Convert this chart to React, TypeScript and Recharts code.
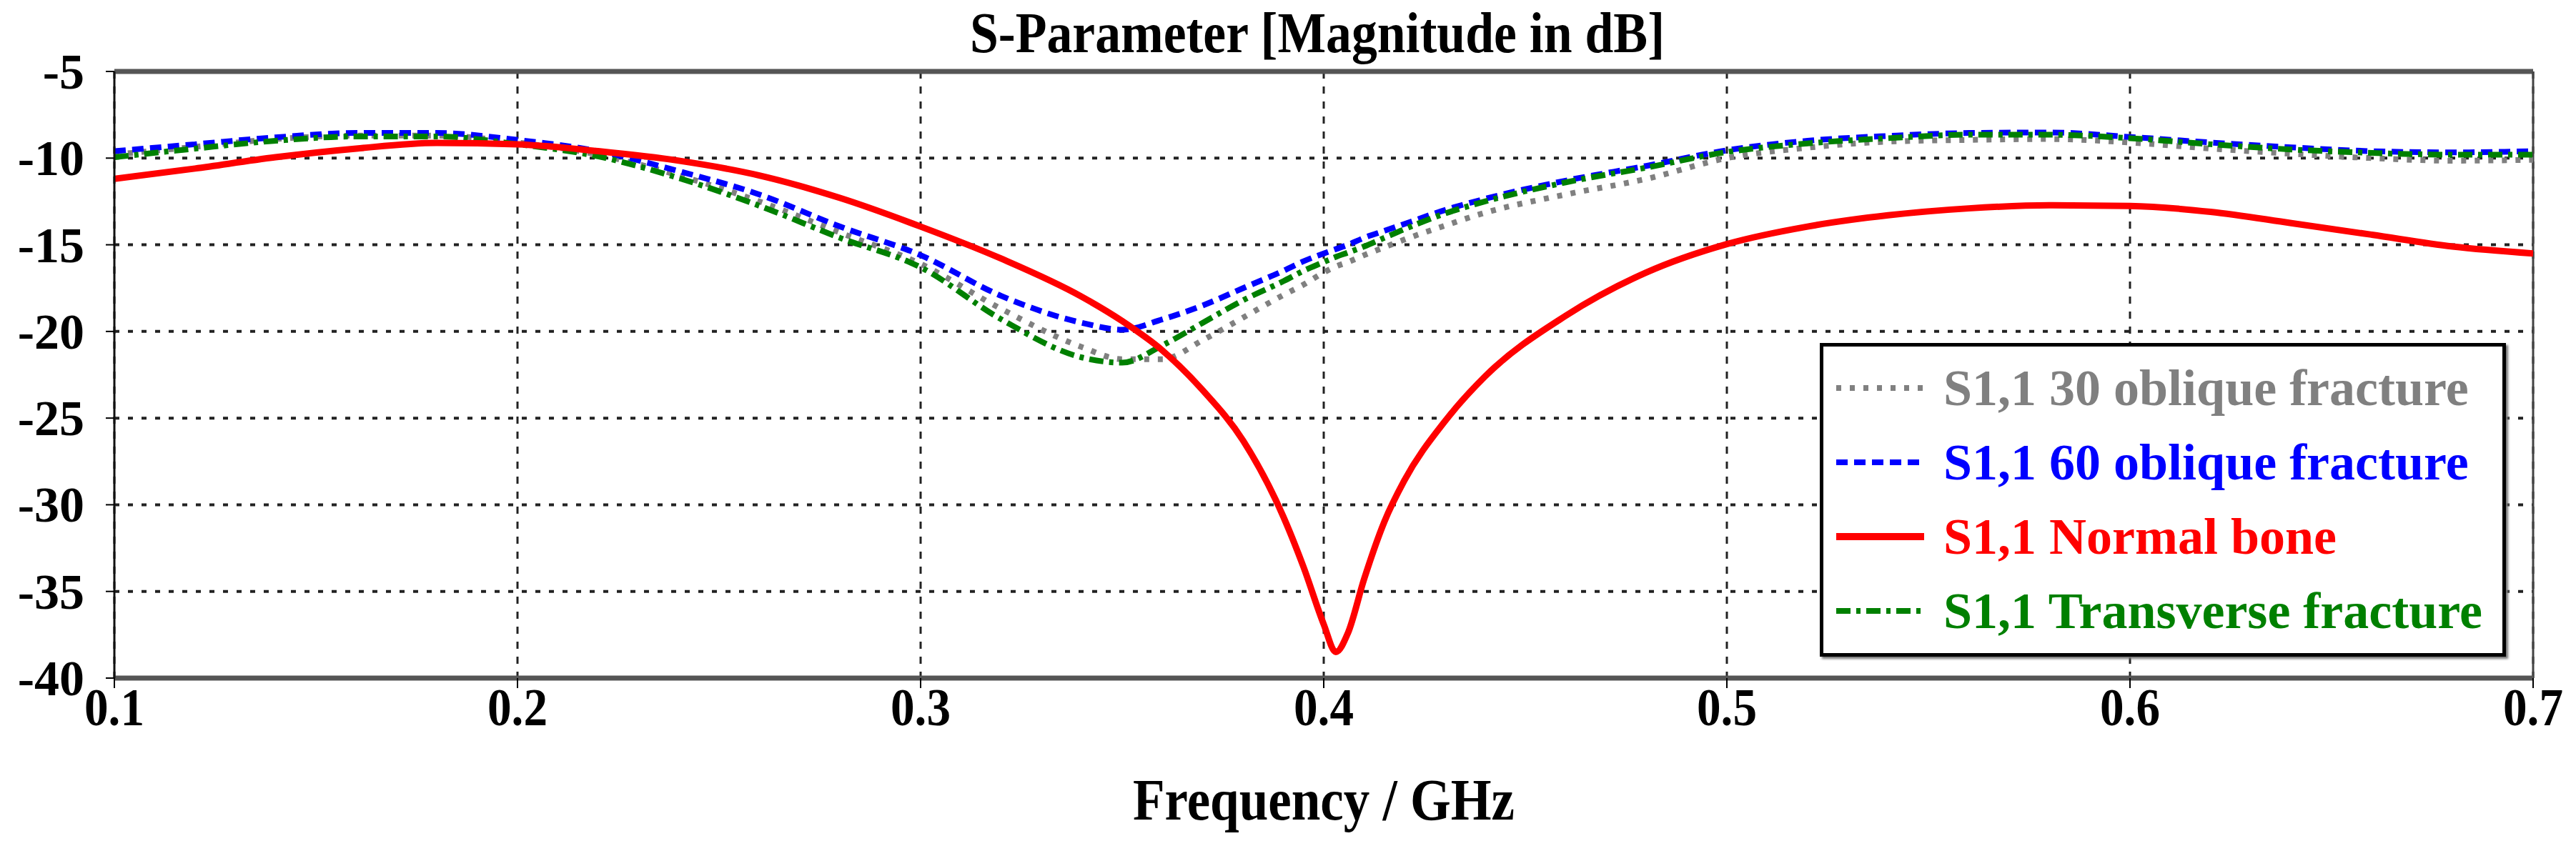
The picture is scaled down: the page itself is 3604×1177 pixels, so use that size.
import React from "react";
import {
  LineChart,
  Line,
  XAxis,
  YAxis,
  CartesianGrid,
  ReferenceLine,
} from "recharts";

const FREQ = [
  0.1, 0.12, 0.14, 0.16, 0.18, 0.2, 0.22, 0.24, 0.26, 0.28, 0.3, 0.32, 0.34, 0.35, 0.36, 0.37,
  0.38, 0.39, 0.395, 0.4, 0.403, 0.406, 0.41, 0.415, 0.42, 0.43, 0.44, 0.46, 0.48, 0.5, 0.52,
  0.54, 0.56, 0.58, 0.6, 0.62, 0.64, 0.66, 0.68, 0.7,
];

const OBLIQUE_30 = [
  -9.8, -9.35, -8.9, -8.7, -8.7, -9.1, -9.8, -11.0, -12.5, -14.3, -16.1, -18.7, -20.9, -21.6,
  -21.6, -20.5, -19.2, -17.9, -17.3, -16.6, -16.25, -16.0, -15.6, -15.15, -14.7, -13.9, -13.15,
  -12.1, -11.2, -10.0, -9.4, -9.05, -8.95, -8.9, -9.1, -9.45, -9.75, -10.0, -10.15, -10.1,
];

const OBLIQUE_60 = [
  -9.6, -9.2, -8.8, -8.55, -8.55, -8.95, -9.6, -10.75, -12.1, -13.95, -15.6, -17.95, -19.5,
  -19.9, -19.3, -18.5, -17.5, -16.5, -15.95, -15.5, -15.25, -15.0, -14.6, -14.2, -13.8, -13.0,
  -12.35, -11.3, -10.45, -9.55, -9.0, -8.72, -8.55, -8.52, -8.78, -9.1, -9.38, -9.6, -9.67, -9.6,
];

const NORMAL_BONE = [
  -11.2, -10.6, -9.95, -9.45, -9.12, -9.2, -9.6, -10.15, -11.0, -12.3, -13.95, -15.8, -18.0,
  -19.4, -21.1, -23.4, -26.3, -30.7, -33.6, -36.9, -38.5, -37.4, -34.3, -31.0, -28.6, -25.2,
  -22.6, -19.1, -16.6, -14.96, -13.95, -13.3, -12.9, -12.72, -12.76, -13.1, -13.75, -14.42,
  -15.1, -15.5,
];

const TRANSVERSE = [
  -9.95, -9.45, -9.0, -8.75, -8.75, -9.2, -9.9, -11.15, -12.75, -14.6, -16.3, -19.3, -21.5,
  -21.8, -20.8, -19.5, -18.2, -17.1, -16.5, -16.0, -15.7, -15.45, -15.1, -14.6, -14.1, -13.2,
  -12.5, -11.4, -10.55, -9.65, -9.15, -8.85, -8.65, -8.65, -8.85, -9.2, -9.5, -9.7, -9.8, -9.8,
];

const X_TICKS = [0.1, 0.2, 0.3, 0.4, 0.5, 0.6, 0.7];
const Y_TICKS = [-40, -35, -30, -25, -20, -15, -10, -5];

const SERIES = [
  { key: "o30", name: "S1,1 30 oblique fracture", color: "#808080", dash: "7 12", width: 8 },
  { key: "o60", name: "S1,1 60 oblique fracture", color: "#0000ff", dash: "16 9", width: 8 },
  { key: "tr", name: "S1,1 Transverse fracture", color: "#008000", dash: "20 8 6 8", width: 8 },
  { key: "nb", name: "S1,1 Normal bone", color: "#ff0000", dash: undefined, width: 9 },
];

const LEGEND_ORDER = ["o30", "o60", "nb", "tr"];

const data = FREQ.map((f, i) => ({
  f,
  o30: OBLIQUE_30[i],
  o60: OBLIQUE_60[i],
  nb: NORMAL_BONE[i],
  tr: TRANSVERSE[i],
}));

const FONT = "'Liberation Serif', 'Times New Roman', serif";

const XTick = ({ x, y, payload }: any) => (
  <text
    x={x}
    y={y + 50}
    textAnchor="middle"
    fontFamily={FONT}
    fontWeight="bold"
    fontSize={74}
    fill="#000"
    textLength={84}
    lengthAdjust="spacingAndGlyphs"
  >
    {payload.value}
  </text>
);

const YTick = ({ x, y, payload }: any) => (
  <text
    x={x}
    y={y + 24}
    textAnchor="end"
    fontFamily={FONT}
    fontWeight="bold"
    fontSize={70}
    fill="#000"
  >
    {payload.value}
  </text>
);

const XLabel = ({ viewBox }: any) => (
  <text
    x={viewBox.x + viewBox.width / 2}
    y={viewBox.y + 198}
    textAnchor="middle"
    fontFamily={FONT}
    fontWeight="bold"
    fontSize={82}
    fill="#000"
    textLength={534}
    lengthAdjust="spacingAndGlyphs"
  >
    Frequency / GHz
  </text>
);

const LegendBox = () => (
  <div
    style={{
      position: "absolute",
      left: 2546,
      top: 480,
      width: 950,
      height: 423,
      border: "5px solid #000",
      boxShadow: "3px 3px 3px #777",
      background: "#fff",
      paddingTop: 6,
      boxSizing: "content-box",
    }}
  >
    {LEGEND_ORDER.map((k) => {
      const s = SERIES.find((d) => d.key === k)!;
      return (
        <div key={k} style={{ height: 104, display: "flex", alignItems: "center" }}>
          <svg width={168} height={20} style={{ flex: "none" }}>
            <line
              x1={18}
              x2={141}
              y1={10}
              y2={10}
              stroke={s.color}
              strokeWidth={s.key === "nb" ? 10 : 8}
              strokeDasharray={s.dash}
            />
          </svg>
          <span
            style={{
              fontFamily: FONT,
              fontWeight: "bold",
              fontSize: 72,
              color: s.color,
              lineHeight: 1,
              whiteSpace: "nowrap",
            }}
          >
            {s.name}
          </span>
        </div>
      );
    })}
  </div>
);

export default function App() {
  return (
    <div
      style={{
        position: "absolute",
        left: 0,
        top: 0,
        width: 3604,
        height: 1177,
        background: "#fff",
      }}
    >
      <div style={{ position: "absolute", left: 0, top: 0 }}>
        <LineChart
          width={3604}
          height={1177}
          data={data}
          margin={{ top: 100, right: 60, left: 60, bottom: 128 }}
        >
          <CartesianGrid
            horizontal={true}
            vertical={false}
            stroke="#222"
            strokeWidth={4}
            strokeDasharray="7 12"
          />
          <CartesianGrid
            horizontal={false}
            vertical={true}
            stroke="#222"
            strokeWidth={3}
            strokeDasharray="10 11"
          />
          <XAxis
            type="number"
            dataKey="f"
            domain={[0.1, 0.7]}
            ticks={X_TICKS}
            allowDataOverflow
            height={100}
            tickSize={14}
            tickLine={{ stroke: "#000", strokeWidth: 2 }}
            axisLine={{ stroke: "#555", strokeWidth: 7 }}
            tick={<XTick />}
            label={<XLabel />}
          />
          <YAxis
            type="number"
            domain={[-40, -5]}
            ticks={Y_TICKS}
            allowDataOverflow
            width={100}
            tickSize={12}
            tickMargin={30}
            tickLine={{ stroke: "#000", strokeWidth: 2 }}
            axisLine={{ stroke: "#111", strokeWidth: 3 }}
            tick={<YTick />}
          />
          <ReferenceLine y={-5} stroke="#555" strokeWidth={7} />
          <ReferenceLine x={0.7} stroke="#444" strokeWidth={3} />
          {SERIES.map((s) => (
            <Line
              key={s.key}
              type="monotone"
              dataKey={s.key}
              name={s.name}
              stroke={s.color}
              strokeWidth={s.width}
              strokeDasharray={s.dash}
              dot={false}
              activeDot={false}
              isAnimationActive={false}
            />
          ))}
        </LineChart>
      </div>
      <svg width={3604} height={110} style={{ position: "absolute", left: 0, top: 0 }}>
        <text
          x={1843}
          y={73}
          textAnchor="middle"
          fontFamily={FONT}
          fontWeight="bold"
          fontSize={80}
          fill="#000"
          textLength={972}
          lengthAdjust="spacingAndGlyphs"
        >
          S-Parameter [Magnitude in dB]
        </text>
      </svg>
      <LegendBox />
    </div>
  );
}
